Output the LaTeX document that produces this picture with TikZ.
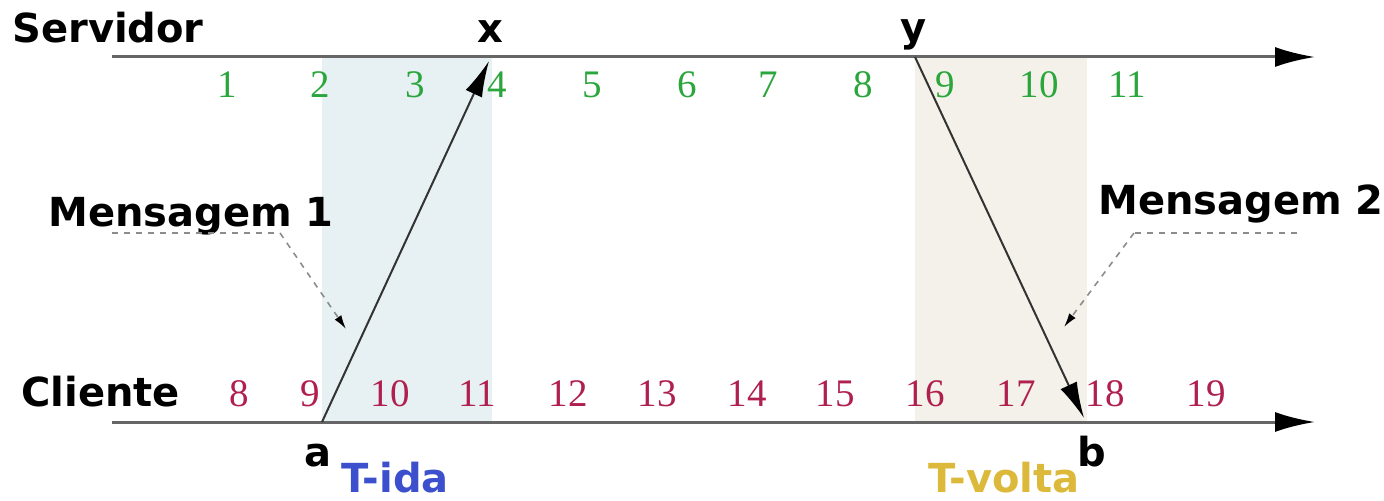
\documentclass[tikz,border=0pt]{standalone}
\usepackage{fontspec}
\setmainfont{Liberation Serif}
\newfontfamily\lblfont{DejaVu Sans}[BoldFont={DejaVu Sans Bold}]
\usetikzlibrary{arrows.meta}
\definecolor{numgreen}{HTML}{2BA63C}
\definecolor{numred}{HTML}{B0204E}
\definecolor{shadeblue}{HTML}{E7F1F4}
\definecolor{shadebeige}{HTML}{F4F1EA}
\definecolor{tblue}{HTML}{3C4FCC}
\definecolor{tgold}{HTML}{DCB93A}
\definecolor{axisgray}{HTML}{666666}
\tikzset{
  axis/.style={draw=axisgray, line width=1.5pt, -{Latex[length=20pt,width=10pt,fill=black,color=black]}},
  msg/.style={draw=black!80, line width=1pt, -{Latex[length=18pt,width=9pt,fill=black,color=black]}},
  pointer/.style={draw=black!45, line width=0.8pt, dash pattern=on 3pt off 3pt},
  pointerarrow/.style={pointer, -{Latex[length=7pt,width=4pt,fill=black,color=black]}},
  lbl/.style={font=\lblfont\bfseries\fontsize{20}{24}\selectfont, inner sep=0pt},
  gnum/.style={font=\fontsize{19.5}{23}\selectfont, text=numgreen, inner sep=0pt, anchor=base},
  rnum/.style={font=\fontsize{19.5}{23}\selectfont, text=numred, inner sep=0pt, anchor=base},
}
\begin{document}
\begin{tikzpicture}[x=0.5pt,y=-0.5pt]
\useasboundingbox (0,0) rectangle (1384,501);
% shaded intervals
\fill[shadeblue] (322,57) rectangle (492,422);
\fill[shadebeige] (915,57) rectangle (1087,422);
% axes
\coordinate (s0) at (112,57);
\coordinate (s1) at (1315,57);
\coordinate (c0) at (112,422);
\coordinate (c1) at (1315,422);
\draw[axis] (s0) -- (s1);
\draw[axis] (c0) -- (c1);
% axis labels
\node[lbl, anchor=base west] (servidor) at (12,43) {Servidor};
\node[lbl, anchor=base west] (cliente) at (21,407) {Cliente};
% event points
\coordinate (pa) at (322,422);
\coordinate (px) at (489,61);
\coordinate (py) at (915,57);
\coordinate (pb) at (1084,418);
\node[lbl, anchor=base] (lx) at (490,43) {x};
\node[lbl, anchor=base] (ly) at (914,42) {y};
\node[lbl, anchor=base] (la) at (318,466) {a};
\node[lbl, anchor=base] (lb) at (1092,466) {b};
% messages
\draw[msg] (pa) -- (px);
\draw[msg] (py) -- (pb);
% interval labels
\node[lbl, text=tblue, anchor=base] (tida) at (395,492) {T-ida};
\node[lbl, text=tgold, anchor=base] (tvolta) at (1004,492) {T-volta};
% server clock
\foreach \n/\xx in {1/227,2/320,3/415,4/497,5/592,6/687,7/768,8/863,9/945,10/1039,11/1127}
  \node[gnum] (g\n) at (\xx,98) {\n};
% client clock
\foreach \n/\xx in {8/239,9/310,10/390,11/477,12/568,13/657,14/747,15/835,16/925,17/1016,18/1105,19/1206}
  \node[rnum] (r\n) at (\xx,407) {\n};
% message callouts
\node[lbl, anchor=base west] (m1) at (48,227) {Mensagem 1};
\node[lbl, anchor=base west] (m2) at (1098,215) {Mensagem 2};
\coordinate (m1a) at (112,233);
\coordinate (m1b) at (280,233);
\coordinate (m1t) at (346,329);
\draw[pointer] (m1a) -- (m1b);
\draw[pointerarrow] (m1b) -- (m1t);
\coordinate (m2a) at (1297,233);
\coordinate (m2b) at (1134,233);
\coordinate (m2t) at (1064,327);
\draw[pointer] (m2a) -- (m2b);
\draw[pointerarrow] (m2b) -- (m2t);
\end{tikzpicture}
\end{document}
